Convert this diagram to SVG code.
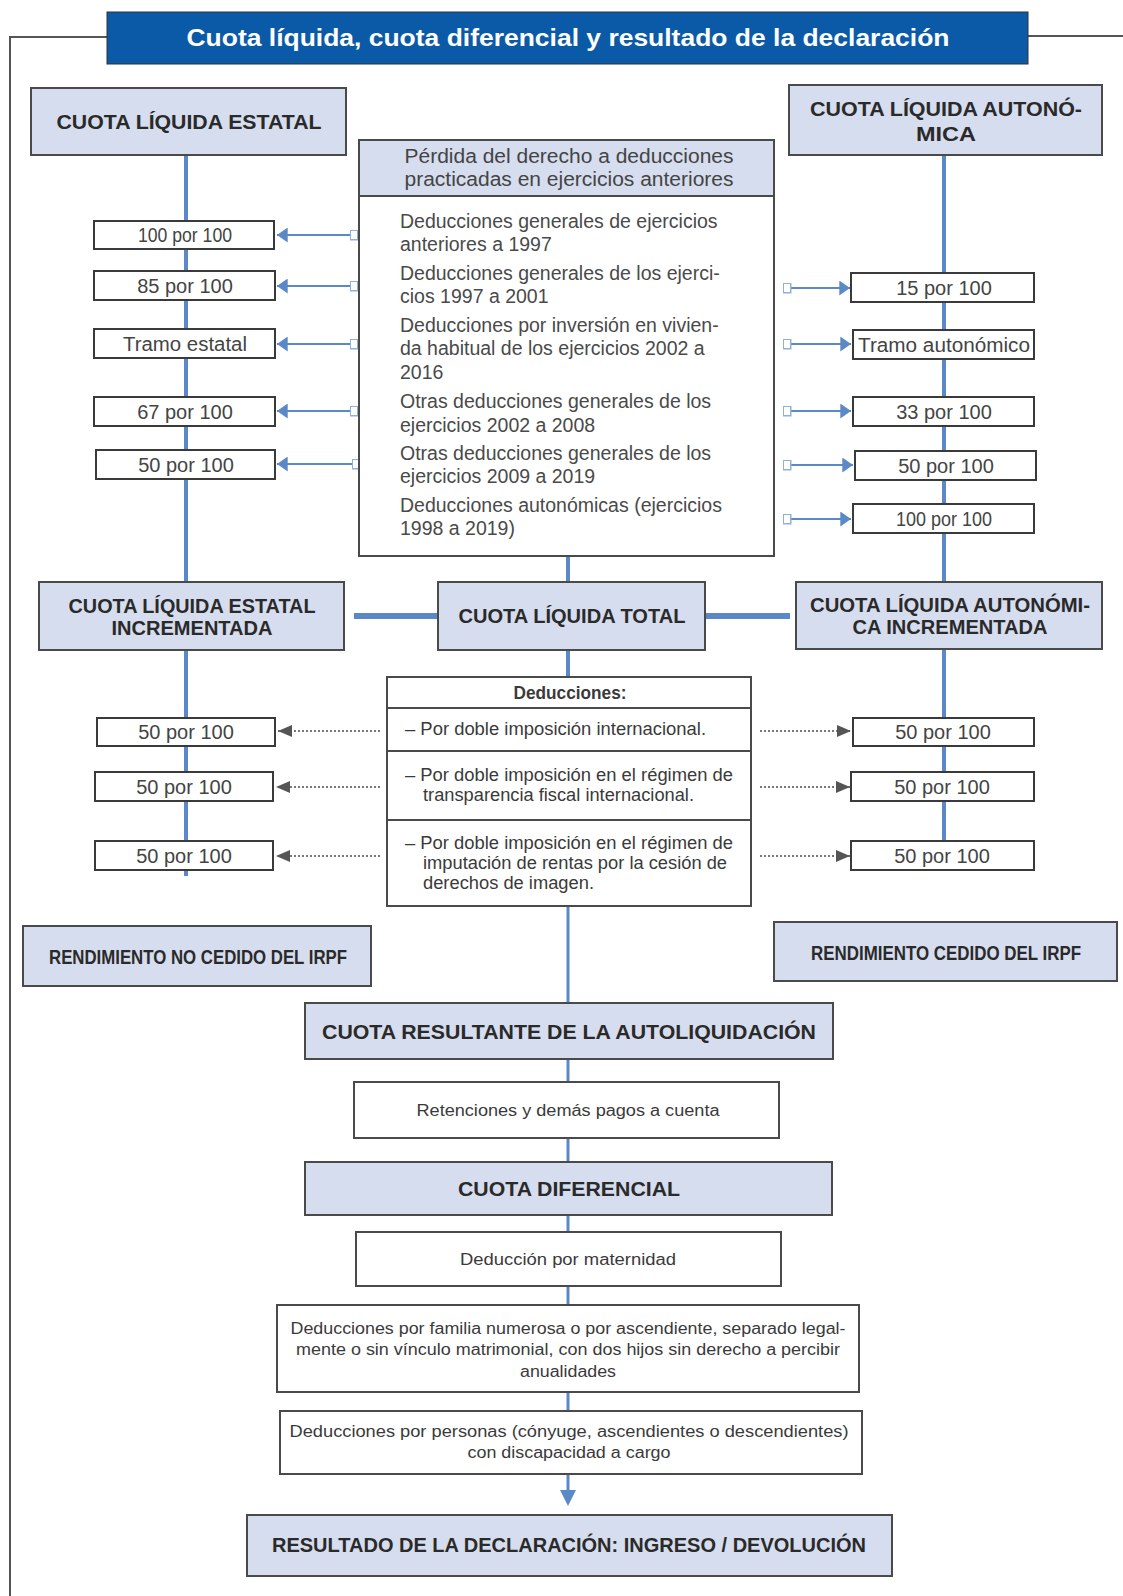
<svg xmlns="http://www.w3.org/2000/svg" width="1123" height="1596" viewBox="0 0 1123 1596">
<style>
.hd{fill:#d6ddee;stroke:#4a4a4a;stroke-width:2}
.wb{fill:#fff;stroke:#4a4a4a;stroke-width:2}
.sb{fill:#fff;stroke:#3a3a3a;stroke-width:2}
.bt{font-family:"Liberation Sans",Arial,sans-serif;font-weight:bold;font-size:20px;fill:#2a2a2a;text-anchor:middle}
.ct{font-family:"Liberation Sans",Arial,sans-serif;font-weight:bold;font-size:20px;fill:#2a2a2a;text-anchor:middle}
.nt{font-family:"Liberation Sans",Arial,sans-serif;font-size:19.5px;fill:#4a4a4a}
.st{font-family:"Liberation Sans",Arial,sans-serif;font-size:20px;fill:#444;text-anchor:middle}
.dt{font-family:"Liberation Sans",Arial,sans-serif;font-size:17.5px;fill:#3a3a3a}
.lt{font-family:"Liberation Sans",Arial,sans-serif;font-size:16px;fill:#3a3a3a;text-anchor:middle}
.bl{stroke:#5b88c6;fill:none}
.ar{stroke:#5b88c6;stroke-width:2;fill:none}
.dot{stroke:#777;stroke-width:2;stroke-dasharray:2 2;fill:none}
</style>
<defs>
<marker id="bh" viewBox="0 0 10 14" refX="10" refY="7" markerWidth="11" markerHeight="15" markerUnits="userSpaceOnUse" orient="auto-start-reverse">
<path d="M0,0 L10,7 L0,14 Z" fill="#5b88c6"/>
</marker>
<marker id="sq" viewBox="0 0 9 11" refX="4.5" refY="5.5" markerWidth="9" markerHeight="11" markerUnits="userSpaceOnUse" orient="auto">
<rect x="0.75" y="0.75" width="7.5" height="9.5" fill="#fff" stroke="#8fb0dc" stroke-width="1.5"/>
</marker>
<marker id="gh" viewBox="0 0 14 12" refX="14" refY="6" markerWidth="14" markerHeight="12" markerUnits="userSpaceOnUse" orient="auto-start-reverse">
<path d="M0,0 L14,6 L0,12 Z" fill="#555"/>
</marker>
<marker id="dh" viewBox="0 0 20 16" refX="10" refY="8" markerWidth="20" markerHeight="16" markerUnits="userSpaceOnUse" orient="auto">
<path d="M0,0 L16,8 L0,16 Z" fill="#5b88c6"/>
</marker>
</defs>
<rect width="1123" height="1596" fill="#fff"/>

<g id="frame" fill="none" stroke="#555" stroke-width="2">
<path d="M107,37 H10 V1596"/>
<path d="M1028,36 H1123"/>
</g>

<g id="connectors">
<line class="bl" stroke-width="4" x1="186" y1="155" x2="186" y2="582"/>
<line class="bl" stroke-width="4" x1="944" y1="155" x2="944" y2="582"/>
<line class="bl" stroke-width="4" x1="568" y1="556" x2="568" y2="582"/>
<line class="bl" stroke-width="6" x1="354" y1="616" x2="438" y2="616"/>
<line class="bl" stroke-width="6" x1="705" y1="616" x2="790" y2="616"/>
<line class="bl" stroke-width="4" x1="186" y1="650" x2="186" y2="876"/>
<line class="bl" stroke-width="4" x1="944" y1="649" x2="944" y2="841"/>
<line class="bl" stroke-width="4" x1="568" y1="650" x2="568" y2="677"/>
<line class="bl" stroke-width="3" x1="568" y1="906" x2="568" y2="1003"/>
<line class="bl" stroke-width="3" x1="568" y1="1059" x2="568" y2="1082"/>
<line class="bl" stroke-width="3" x1="568" y1="1138" x2="568" y2="1162"/>
<line class="bl" stroke-width="3" x1="568" y1="1215" x2="568" y2="1232"/>
<line class="bl" stroke-width="3" x1="568" y1="1286" x2="568" y2="1305"/>
<line class="bl" stroke-width="3" x1="568" y1="1392" x2="568" y2="1411"/>
<line class="bl" stroke-width="3" x1="568" y1="1474" x2="568" y2="1500" marker-end="url(#dh)"/>
<line class="ar" x1="354" y1="235" x2="277" y2="235" marker-start="url(#sq)" marker-end="url(#bh)"/>
<line class="ar" x1="354" y1="286" x2="277" y2="286" marker-start="url(#sq)" marker-end="url(#bh)"/>
<line class="ar" x1="354" y1="344" x2="277" y2="344" marker-start="url(#sq)" marker-end="url(#bh)"/>
<line class="ar" x1="354" y1="411" x2="277" y2="411" marker-start="url(#sq)" marker-end="url(#bh)"/>
<line class="ar" x1="356" y1="464" x2="277" y2="464" marker-start="url(#sq)" marker-end="url(#bh)"/>
<line class="ar" x1="787" y1="288" x2="850" y2="288" marker-start="url(#sq)" marker-end="url(#bh)"/>
<line class="ar" x1="787" y1="344" x2="851" y2="344" marker-start="url(#sq)" marker-end="url(#bh)"/>
<line class="ar" x1="787" y1="411" x2="851" y2="411" marker-start="url(#sq)" marker-end="url(#bh)"/>
<line class="ar" x1="787" y1="465" x2="853" y2="465" marker-start="url(#sq)" marker-end="url(#bh)"/>
<line class="ar" x1="787" y1="519" x2="851" y2="519" marker-start="url(#sq)" marker-end="url(#bh)"/>
<line class="dot" x1="380" y1="731" x2="278" y2="731" marker-end="url(#gh)"/>
<line class="dot" x1="380" y1="787" x2="276" y2="787" marker-end="url(#gh)"/>
<line class="dot" x1="380" y1="856" x2="276" y2="856" marker-end="url(#gh)"/>
<line class="dot" x1="760" y1="731" x2="851" y2="731" marker-end="url(#gh)"/>
<line class="dot" x1="760" y1="787" x2="850" y2="787" marker-end="url(#gh)"/>
<line class="dot" x1="760" y1="856" x2="850" y2="856" marker-end="url(#gh)"/>
</g>

<g id="title">
<rect x="107" y="12" width="921" height="52" fill="#0b5aa8" stroke="#333" stroke-width="1"/>
<text x="568" y="46" font-family="Liberation Sans, Arial, sans-serif" font-weight="bold" font-size="24" fill="#fff" text-anchor="middle" textLength="763" lengthAdjust="spacingAndGlyphs">Cuota líquida, cuota diferencial y resultado de la declaración</text>
</g>

<g id="n-cle"><rect class="hd" x="31" y="88" width="315" height="67"/><text class="bt" x="189" y="129" textLength="265" lengthAdjust="spacingAndGlyphs">CUOTA LÍQUIDA ESTATAL</text></g>
<g id="n-cla"><rect class="hd" x="789" y="85" width="313" height="70"/><text class="bt" x="946" y="116" textLength="272" lengthAdjust="spacingAndGlyphs">CUOTA LÍQUIDA AUTONÓ-</text><text class="bt" x="946" y="141" textLength="60" lengthAdjust="spacingAndGlyphs">MICA</text></g>

<g id="n-perdida">
<rect class="wb" x="359" y="196" width="415" height="360"/>
<rect class="hd" x="359" y="140" width="415" height="56"/>
<text class="st" x="569" y="163" font-size="18" textLength="329" lengthAdjust="spacingAndGlyphs">Pérdida del derecho a deducciones</text>
<text class="st" x="569" y="186" font-size="18" textLength="329" lengthAdjust="spacingAndGlyphs">practicadas en ejercicios anteriores</text>
<text class="nt" x="400" y="228">Deducciones generales de ejercicios</text>
<text class="nt" x="400" y="251">anteriores a 1997</text>
<text class="nt" x="400" y="280">Deducciones generales de los ejerci-</text>
<text class="nt" x="400" y="303">cios 1997 a 2001</text>
<text class="nt" x="400" y="332">Deducciones por inversión en vivien-</text>
<text class="nt" x="400" y="355">da habitual de los ejercicios 2002 a</text>
<text class="nt" x="400" y="379">2016</text>
<text class="nt" x="400" y="408">Otras deducciones generales de los</text>
<text class="nt" x="400" y="432">ejercicios 2002 a 2008</text>
<text class="nt" x="400" y="460">Otras deducciones generales de los</text>
<text class="nt" x="400" y="483">ejercicios 2009 a 2019</text>
<text class="nt" x="400" y="512">Deducciones autonómicas (ejercicios</text>
<text class="nt" x="400" y="535">1998 a 2019)</text>
</g>

<g id="l-100"><rect class="sb" x="94" y="221" width="180" height="28"/><text class="st" x="185" y="242" textLength="94" lengthAdjust="spacingAndGlyphs">100 por 100</text></g>
<g id="l-85"><rect class="sb" x="94" y="271" width="181" height="29"/><text class="st" x="185" y="293">85 por 100</text></g>
<g id="l-tramo"><rect class="sb" x="94" y="329" width="181" height="29"/><text class="st" x="185" y="351" textLength="124" lengthAdjust="spacingAndGlyphs">Tramo estatal</text></g>
<g id="l-67"><rect class="sb" x="94" y="397" width="181" height="29"/><text class="st" x="185" y="419">67 por 100</text></g>
<g id="l-50"><rect class="sb" x="96" y="450" width="179" height="29"/><text class="st" x="186" y="472">50 por 100</text></g>

<g id="r-15"><rect class="sb" x="851" y="273" width="183" height="29"/><text class="st" x="944" y="295">15 por 100</text></g>
<g id="r-tramo"><rect class="sb" x="853" y="330" width="181" height="29"/><text class="st" x="944" y="352" textLength="172" lengthAdjust="spacingAndGlyphs">Tramo autonómico</text></g>
<g id="r-33"><rect class="sb" x="853" y="397" width="181" height="29"/><text class="st" x="944" y="419">33 por 100</text></g>
<g id="r-50"><rect class="sb" x="855" y="451" width="181" height="29"/><text class="st" x="946" y="473">50 por 100</text></g>
<g id="r-100"><rect class="sb" x="853" y="504" width="181" height="29"/><text class="st" x="944" y="526" textLength="96" lengthAdjust="spacingAndGlyphs">100 por 100</text></g>

<g id="n-clei"><rect class="hd" x="39" y="582" width="305" height="68"/><text class="bt" x="192" y="613" textLength="247" lengthAdjust="spacingAndGlyphs">CUOTA LÍQUIDA ESTATAL</text><text class="bt" x="192" y="635" textLength="161" lengthAdjust="spacingAndGlyphs">INCREMENTADA</text></g>
<g id="n-clt"><rect class="hd" x="438" y="582" width="267" height="68"/><text class="bt" x="572" y="623" textLength="227" lengthAdjust="spacingAndGlyphs">CUOTA LÍQUIDA TOTAL</text></g>
<g id="n-claI"><rect class="hd" x="796" y="582" width="306" height="67"/><text class="bt" x="950" y="612" textLength="280" lengthAdjust="spacingAndGlyphs">CUOTA LÍQUIDA AUTONÓMI-</text><text class="bt" x="950" y="634" textLength="195" lengthAdjust="spacingAndGlyphs">CA INCREMENTADA</text></g>

<g id="n-deducciones">
<rect class="wb" x="387" y="677" width="364" height="229"/>
<line x1="387" y1="708" x2="751" y2="708" stroke="#4a4a4a" stroke-width="2"/>
<line x1="387" y1="751" x2="751" y2="751" stroke="#4a4a4a" stroke-width="2"/>
<line x1="387" y1="820" x2="751" y2="820" stroke="#4a4a4a" stroke-width="2"/>
<text class="dt" x="570" y="699" text-anchor="middle" font-weight="bold" font-size="16" textLength="113" lengthAdjust="spacingAndGlyphs">Deducciones:</text>
<text class="dt" x="405" y="735" textLength="301" lengthAdjust="spacingAndGlyphs">–  Por doble imposición internacional.</text>
<text class="dt" x="405" y="781" textLength="328" lengthAdjust="spacingAndGlyphs">–  Por doble imposición en el régimen de</text>
<text class="dt" x="423" y="801" textLength="271" lengthAdjust="spacingAndGlyphs">transparencia fiscal internacional.</text>
<text class="dt" x="405" y="849" textLength="328" lengthAdjust="spacingAndGlyphs">–  Por doble imposición en el régimen de</text>
<text class="dt" x="423" y="869" textLength="304" lengthAdjust="spacingAndGlyphs">imputación de rentas por la cesión de</text>
<text class="dt" x="423" y="889" textLength="171" lengthAdjust="spacingAndGlyphs">derechos de imagen.</text>
</g>

<g id="l2-1"><rect class="sb" x="97" y="718" width="178" height="28"/><text class="st" x="186" y="739">50 por 100</text></g>
<g id="l2-2"><rect class="sb" x="95" y="772" width="178" height="29"/><text class="st" x="184" y="794">50 por 100</text></g>
<g id="l2-3"><rect class="sb" x="95" y="841" width="178" height="29"/><text class="st" x="184" y="863">50 por 100</text></g>
<g id="r2-1"><rect class="sb" x="853" y="718" width="181" height="28"/><text class="st" x="943" y="739">50 por 100</text></g>
<g id="r2-2"><rect class="sb" x="851" y="772" width="183" height="29"/><text class="st" x="942" y="794">50 por 100</text></g>
<g id="r2-3"><rect class="sb" x="851" y="841" width="183" height="29"/><text class="st" x="942" y="863">50 por 100</text></g>

<g id="n-rnc"><rect class="hd" x="23" y="926" width="348" height="60"/><text class="ct" x="198" y="964" textLength="298" lengthAdjust="spacingAndGlyphs">RENDIMIENTO NO CEDIDO DEL IRPF</text></g>
<g id="n-rc"><rect class="hd" x="774" y="922" width="343" height="59"/><text class="ct" transform="translate(946,960) scale(0.75,1)" x="0" y="0" textLength="360" lengthAdjust="spacingAndGlyphs">RENDIMIENTO CEDIDO DEL IRPF</text></g>

<g id="n-cra"><rect class="hd" x="305" y="1003" width="528" height="56"/><text class="ct" x="569" y="1039" font-size="21" textLength="494" lengthAdjust="spacingAndGlyphs">CUOTA RESULTANTE DE LA AUTOLIQUIDACIÓN</text></g>
<g id="n-ret"><rect class="wb" x="354" y="1082" width="425" height="56"/><text class="lt" x="568" y="1116" textLength="303" lengthAdjust="spacingAndGlyphs">Retenciones y demás pagos a cuenta</text></g>
<g id="n-cd"><rect class="hd" x="305" y="1162" width="527" height="53"/><text class="ct" x="569" y="1196" font-size="21" textLength="222" lengthAdjust="spacingAndGlyphs">CUOTA DIFERENCIAL</text></g>
<g id="n-dm"><rect class="wb" x="356" y="1232" width="425" height="54"/><text class="lt" x="568" y="1265" textLength="216" lengthAdjust="spacingAndGlyphs">Deducción por maternidad</text></g>
<g id="n-df"><rect class="wb" x="277" y="1305" width="582" height="87"/>
<text class="lt" x="568" y="1334" textLength="555" lengthAdjust="spacingAndGlyphs">Deducciones por familia numerosa o por ascendiente, separado legal-</text>
<text class="lt" x="568" y="1355" textLength="544" lengthAdjust="spacingAndGlyphs">mente o sin vínculo matrimonial, con dos hijos sin derecho a percibir</text>
<text class="lt" x="568" y="1377" textLength="96" lengthAdjust="spacingAndGlyphs">anualidades</text></g>
<g id="n-dp"><rect class="wb" x="280" y="1411" width="582" height="63"/>
<text class="lt" x="569" y="1437" textLength="559" lengthAdjust="spacingAndGlyphs">Deducciones por personas (cónyuge, ascendientes o descendientes)</text>
<text class="lt" x="569" y="1458" textLength="203" lengthAdjust="spacingAndGlyphs">con discapacidad a cargo</text></g>
<g id="n-res"><rect class="hd" x="247" y="1515" width="645" height="61"/><text class="ct" x="569" y="1552" font-size="21" textLength="594" lengthAdjust="spacingAndGlyphs">RESULTADO DE LA DECLARACIÓN: INGRESO / DEVOLUCIÓN</text></g>
</svg>
